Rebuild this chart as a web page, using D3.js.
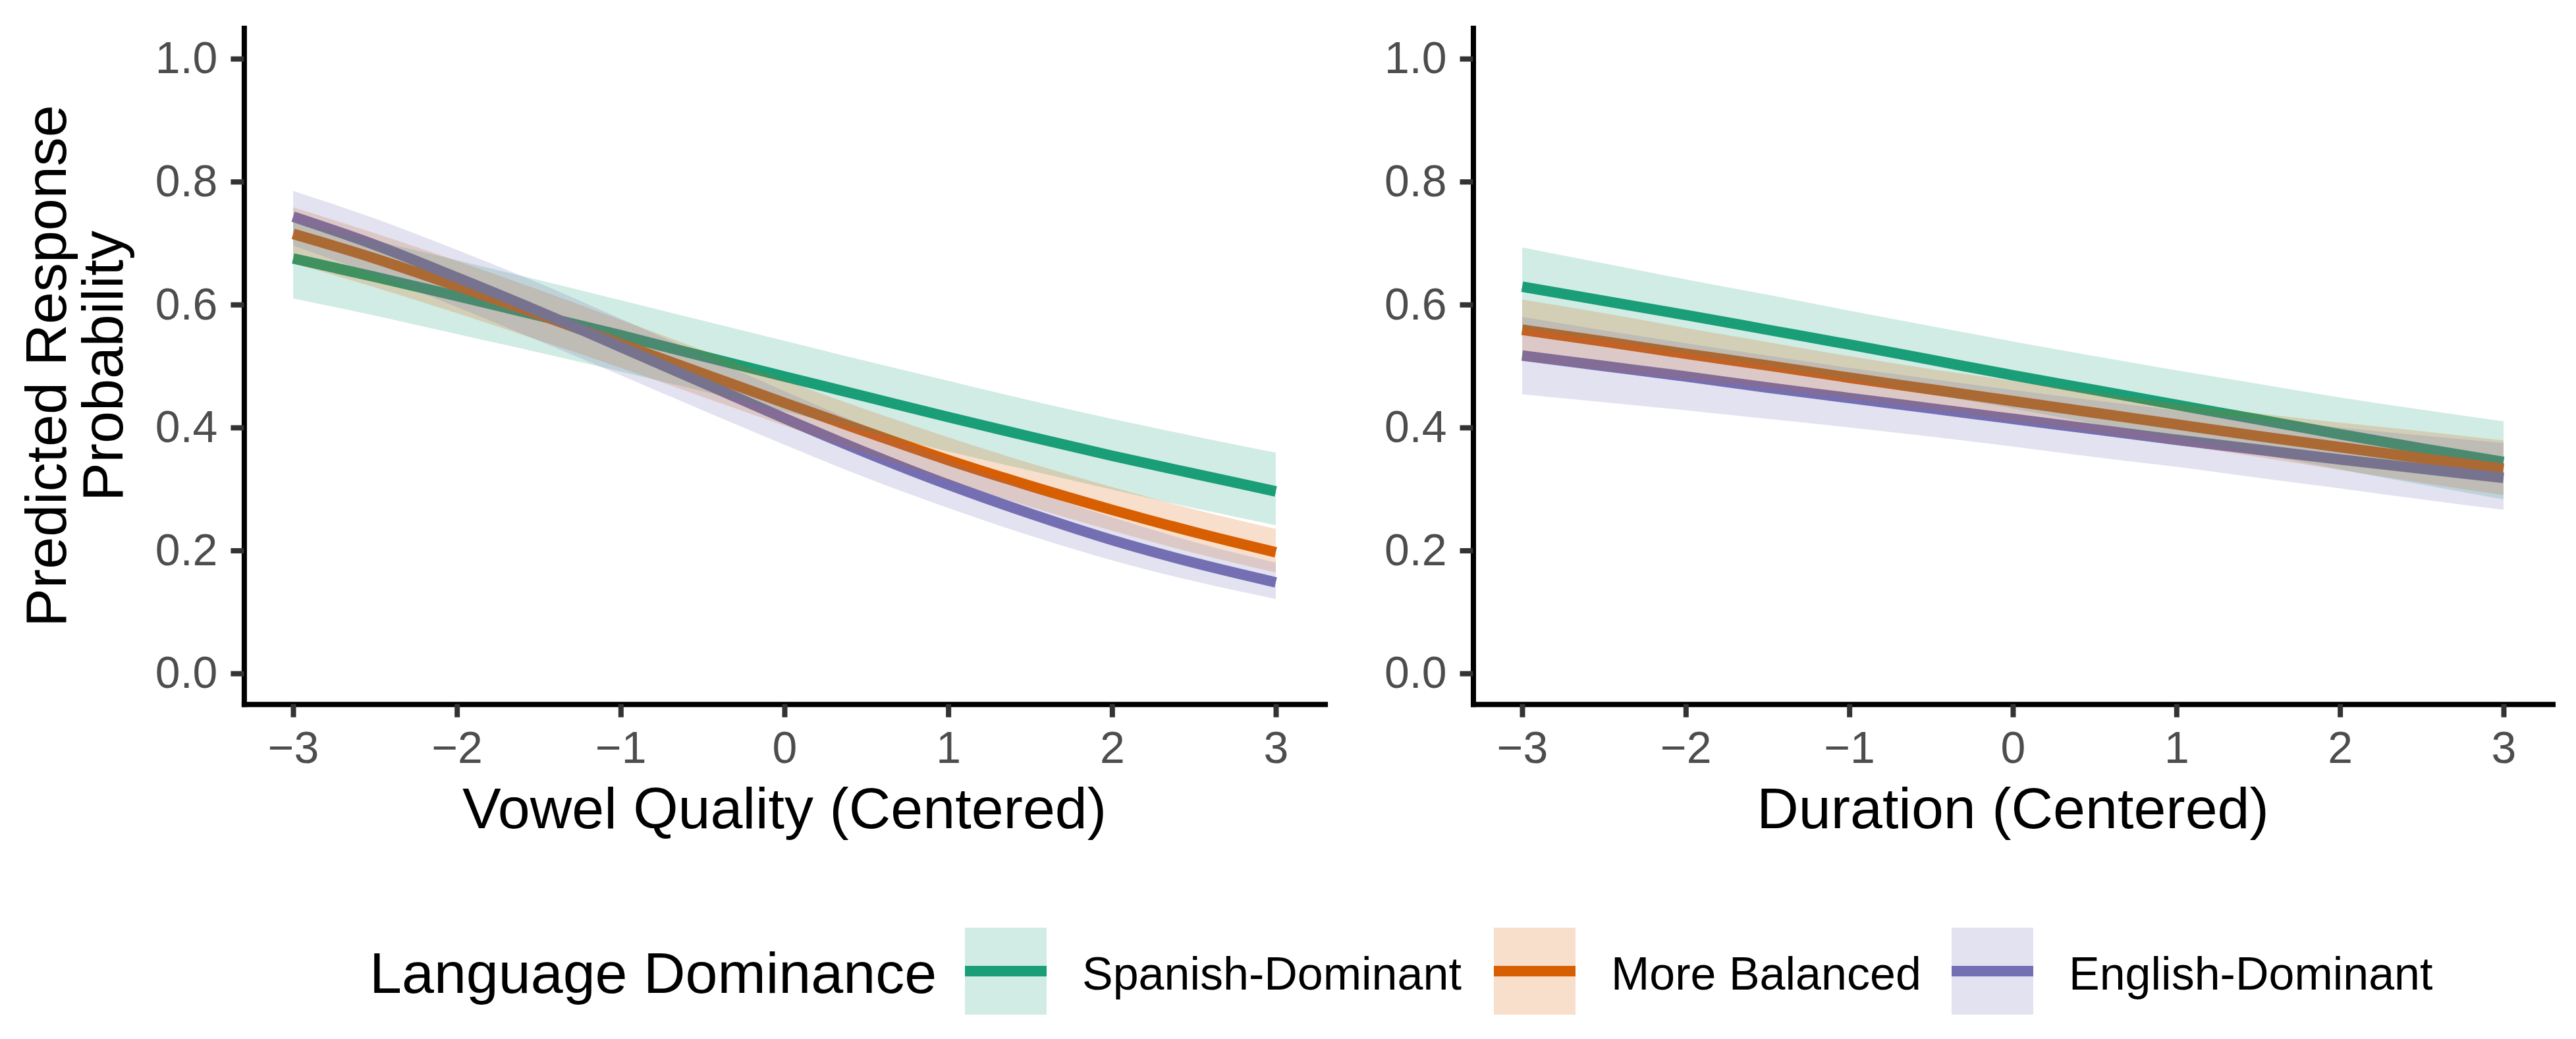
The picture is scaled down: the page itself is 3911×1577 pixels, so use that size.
<!DOCTYPE html>
<html><head><meta charset="utf-8">
<script src="https://cdn.jsdelivr.net/npm/d3@7"></script>
<style>body{margin:0;background:#fff}svg{display:block}</style>
</head><body><svg id="chart"></svg>
<script>
// ---------- data ----------
const groups = ["Spanish-Dominant", "More Balanced", "English-Dominant"];
const groupColors = ["#1B9E77", "#D95F02", "#7570B3"];
const xValues = [-3, -2.5, -2, -1.5, -1, -0.5, 0, 0.5, 1, 1.5, 2, 2.5, 3];
const xTickValues = [-3, -2, -1, 0, 1, 2, 3];
const yTickValues = [0, 0.2, 0.4, 0.6, 0.8, 1.0];
const panelTitles = ["Vowel Quality (Centered)", "Duration (Centered)"];
const yTitleLines = ["Predicted Response", "Probability"];
const legendTitle = "Language Dominance";

// Vowel quality panel
const vowelSpanishFit = [0.675, 0.645, 0.614, 0.582, 0.550, 0.516, 0.483, 0.450, 0.417, 0.385, 0.354, 0.325, 0.296];
const vowelSpanishLo  = [0.610, 0.582, 0.552, 0.522, 0.491, 0.459, 0.426, 0.394, 0.361, 0.330, 0.299, 0.269, 0.241];
const vowelSpanishHi  = [0.734, 0.704, 0.672, 0.640, 0.607, 0.574, 0.541, 0.508, 0.476, 0.444, 0.414, 0.386, 0.359];
const vowelBalancedFit = [0.715, 0.675, 0.630, 0.584, 0.536, 0.488, 0.440, 0.393, 0.347, 0.305, 0.266, 0.230, 0.197];
const vowelBalancedLo  = [0.667, 0.628, 0.586, 0.542, 0.497, 0.450, 0.403, 0.357, 0.313, 0.271, 0.232, 0.196, 0.164];
const vowelBalancedHi  = [0.758, 0.716, 0.671, 0.624, 0.575, 0.526, 0.477, 0.429, 0.384, 0.342, 0.303, 0.267, 0.235];
const vowelEnglishFit = [0.743, 0.697, 0.644, 0.589, 0.531, 0.473, 0.415, 0.359, 0.307, 0.260, 0.217, 0.180, 0.148];
const vowelEnglishLo  = [0.696, 0.648, 0.596, 0.541, 0.485, 0.428, 0.372, 0.318, 0.269, 0.224, 0.184, 0.150, 0.121];
const vowelEnglishHi  = [0.785, 0.740, 0.689, 0.635, 0.577, 0.518, 0.459, 0.402, 0.348, 0.298, 0.254, 0.214, 0.180];

// Duration panel
const durSpanishFit = [0.629, 0.606, 0.583, 0.559, 0.535, 0.510, 0.485, 0.461, 0.437, 0.413, 0.389, 0.366, 0.344];
const durSpanishLo  = [0.561, 0.542, 0.521, 0.500, 0.478, 0.454, 0.431, 0.406, 0.382, 0.357, 0.332, 0.307, 0.283];
const durSpanishHi  = [0.693, 0.667, 0.641, 0.616, 0.590, 0.565, 0.540, 0.516, 0.493, 0.471, 0.449, 0.429, 0.410];
const durBalancedFit = [0.559, 0.540, 0.520, 0.501, 0.481, 0.462, 0.443, 0.424, 0.405, 0.386, 0.368, 0.350, 0.333];
const durBalancedLo  = [0.509, 0.493, 0.479, 0.464, 0.447, 0.430, 0.411, 0.392, 0.372, 0.352, 0.331, 0.310, 0.290];
const durBalancedHi  = [0.608, 0.586, 0.562, 0.539, 0.516, 0.495, 0.476, 0.457, 0.439, 0.423, 0.408, 0.394, 0.379];
const durEnglishFit = [0.517, 0.500, 0.483, 0.465, 0.448, 0.431, 0.414, 0.397, 0.380, 0.364, 0.348, 0.333, 0.318];
const durEnglishLo  = [0.454, 0.441, 0.428, 0.414, 0.400, 0.385, 0.369, 0.352, 0.336, 0.318, 0.301, 0.283, 0.266];
const durEnglishHi  = [0.580, 0.558, 0.537, 0.517, 0.497, 0.479, 0.461, 0.444, 0.428, 0.414, 0.400, 0.387, 0.375];

const panels = [
  { fits: [vowelSpanishFit, vowelBalancedFit, vowelEnglishFit],
    los:  [vowelSpanishLo, vowelBalancedLo, vowelEnglishLo],
    his:  [vowelSpanishHi, vowelBalancedHi, vowelEnglishHi] },
  { fits: [durSpanishFit, durBalancedFit, durEnglishFit],
    los:  [durSpanishLo, durBalancedLo, durEnglishLo],
    his:  [durSpanishHi, durBalancedHi, durEnglishHi] }
];

// ---------- layout ----------
const W = 3911, H = 1577;
const FONT = "'Liberation Sans', Arial, Helvetica, sans-serif";
const panelRanges = [[370.4, 2011.6], [2236.5, 3875.5]];
const yRange = [1068.7, 42.4];

const svg = d3.select("#chart").attr("width", W).attr("height", H)
  .style("font-family", FONT);
svg.append("rect").attr("width", W).attr("height", H).attr("fill", "#fff");

const y = d3.scaleLinear().domain([-0.05, 1.05]).range(yRange);

panels.forEach((p, pi) => {
  const x = d3.scaleLinear().domain([-3.3, 3.3]).range(panelRanges[pi]);
  const g = svg.append("g");

  const line = d3.line().x((d, i) => x(xValues[i])).y(d => y(d)).curve(d3.curveMonotoneX);
  // lines first
  p.fits.forEach((f, gi) => {
    g.append("path").attr("d", line(f)).attr("fill", "none")
      .attr("stroke", groupColors[gi]).attr("stroke-width", 16);
  });
  // ribbons on top
  p.fits.forEach((f, gi) => {
    const area = d3.area().x((d, i) => x(xValues[i]))
      .y0((d, i) => y(p.los[gi][i])).y1((d, i) => y(p.his[gi][i]))
      .curve(d3.curveMonotoneX);
    g.append("path").attr("d", area(f)).attr("fill", groupColors[gi]).attr("fill-opacity", 0.2);
  });

  // axes
  const xAxis = d3.axisBottom(x).tickValues(xTickValues).tickSize(20).tickSizeOuter(0).tickPadding(21)
    .tickFormat(d3.format("d"));
  const gx = svg.append("g").attr("transform", `translate(0,${yRange[0]})`).call(xAxis);
  const yAxis = d3.axisLeft(y).tickValues(yTickValues).tickSize(20).tickSizeOuter(0).tickPadding(20)
    .tickFormat(d3.format(".1f"));
  const gy = svg.append("g").attr("transform", `translate(${panelRanges[pi][0]},0)`).call(yAxis);
  [gx, gy].forEach(ax => {
    ax.select(".domain").attr("stroke", "#000").attr("stroke-width", 8).attr("stroke-linecap", "square");
    ax.selectAll(".tick line").attr("stroke", "#333").attr("stroke-width", 8);
    ax.selectAll(".tick text").attr("fill", "#4D4D4D").style("font-size", "68px").style("font-family", FONT);
  });

  // x title
  svg.append("text").attr("x", x(0)).attr("y", 1257).attr("text-anchor", "middle")
    .style("font-size", "88px").attr("fill", "#000").text(panelTitles[pi]);
});

// y title
const yt = svg.append("text").attr("transform", `translate(100,${y(0.5)}) rotate(-90)`)
  .attr("text-anchor", "middle").style("font-size", "88px").attr("fill", "#000");
yTitleLines.forEach((t, i) => {
  yt.append("tspan").attr("x", 0).attr("y", i * 86).text(t);
});

// legend
svg.append("text").attr("x", 561).attr("y", 1507).style("font-size", "88px").attr("fill", "#000").text(legendTitle);
const keyX = [1465, 2268, 2963];
const keyW = 124, keyTop = 1408, keyH = 132;
groups.forEach((name, gi) => {
  const lg = svg.append("g");
  lg.append("line").attr("x1", keyX[gi]).attr("x2", keyX[gi] + keyW)
    .attr("y1", keyTop + keyH / 2).attr("y2", keyTop + keyH / 2)
    .attr("stroke", groupColors[gi]).attr("stroke-width", 16);
  lg.append("rect").attr("x", keyX[gi]).attr("y", keyTop).attr("width", keyW).attr("height", keyH)
    .attr("fill", groupColors[gi]).attr("fill-opacity", 0.2);
  lg.append("text").attr("x", keyX[gi] + keyW + 54).attr("y", 1502)
    .style("font-size", "70px").attr("fill", "#000").text(name);
});
</script>
</body></html>
